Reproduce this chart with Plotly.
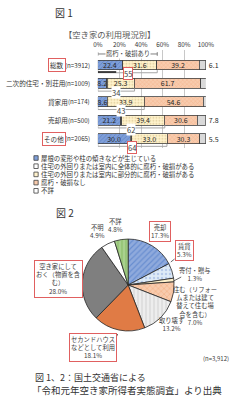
import plotly.graph_objects as go

W, H = 247, 400
FONT = "Noto Sans CJK JP"

# ---------------- Figure 1 data (stacked bars) ----------------
categories = ["総数", "二次的住宅・別荘用", "貸家用", "売却用", "その他"]
sample_sizes = ["(n=3912)", "(n=1009)", "(n=174)", "(n=500)", "(n=2065)"]
highlighted = ["総数", "その他"]
series_names = [
    "屋根の変形や柱の傾きなどが生じている",
    "住宅の外回りまたは室内に全体的に腐朽・破損がある",
    "住宅の外回りまたは室内に部分的に腐朽・破損がある",
    "腐朽・破損なし",
    "不詳",
]
roof_deformed = [22.4, 8.2, 8.6, 21.2, 30.0]
overall_damage = [0.7, 0.3, 0.3, 1.0, 1.2]
partial_damage = [31.6, 25.3, 33.9, 39.4, 33.0]
no_damage = [39.2, 61.7, 54.6, 30.6, 30.3]
unknown = [6.1, 4.7, 2.9, 7.8, 5.5]
damaged_total = [55, 34, 43, 62, 64]
bracket_label = "腐朽・破損あり"
x_tick_vals = [0, 20, 40, 60, 80, 100]
x_tick_text = ["0%", "20%", "40%", "60%", "80%", "100%"]

# ---------------- Figure 2 data (pie) ----------------
pie_labels = ["売却", "賃貸", "寄付・贈与",
              "住む（リフォームまたは建て替えて住む場合を含む）", "取り壊す",
              "セカンドハウスなどとして利用", "空き家にしておく（物置を含む）",
              "不明", "不詳"]
pie_values = [17.3, 5.3, 1.3, 7.0, 13.2, 18.1, 28.0, 4.9, 4.8]
pie_wrapped = ["売却", "賃貸", "寄付・贈与",
               "住む（リフォー<br>ムまたは建て<br>替えて住む場<br>合を含む）", "取り壊す",
               "セカンドハウス<br>などとして利用", "空き家にして<br>おく（物置を含<br>む）",
               "不明", "不詳"]
pie_boxed = ["売却", "賃貸", "セカンドハウスなどとして利用", "空き家にしておく（物置を含む）"]
pie_n_label = "(n=3,912)"

titles = {"fig1": "図 1", "fig2": "図 2", "sub1": "【空き家の利用現況別】"}
caption = ["図 1、2：国土交通省による", "「令和元年空き家所得者実態調査」より出典"]


def P(x, y):
    return x / W, 1 - y / H


def est_width(s, size):
    w = 0.0
    for ch in s:
        if ch in "()":
            w += 0.32
        elif ch == "=":
            w += 0.58
        elif ch.isascii():
            w += 0.56
        else:
            w += 1.0
    return w * size


positions = list(range(len(categories)))
RED = "#E06060"
TXT = "#333333"

fig = go.Figure()

bar_styles = [
    dict(color="#7E9ED8", fg="#3F64AE", shape="/"),
    dict(color="#FFFFFF", fg="#333333", shape=""),
    dict(color="#FFF2CC", fg="#B8A060", shape="."),
    dict(color="#F8CBAD", fg="#EE9A66", shape="x"),
    dict(color="#D9D9D9", fg="#D9D9D9", shape=""),
]
series = [roof_deformed, overall_damage, partial_damage, no_damage, unknown]
for k, (name, vals, st) in enumerate(zip(series_names, series, bar_styles)):
    if k == 1:
        tp = "none"
    elif k == 4:
        tp = "outside"
    else:
        tp = "inside"
    fig.add_trace(go.Bar(
        y=positions, x=vals, orientation="h", name=name,
        marker=dict(color=st["color"], line=dict(color="#404040", width=0.8),
                    pattern=dict(shape=st["shape"], fgcolor=st["fg"], size=3,
                                 solidity=0.25, fillmode="overlay")),
        texttemplate="%{x:.1f}", textposition=tp, insidetextanchor="middle",
        textangle=0, textfont=dict(size=7, color="#262626", family=FONT),
        cliponaxis=False, showlegend=False, hoverinfo="skip",
        xaxis="x", yaxis="y",
    ))

pie_colors = ["#8FAADC", "#DEEBF7", "#FFF2CC", "#F8CBAD", "#EDEDED",
              "#E07B45", "#7F7F7F", "#FFFFFF", "#A9D18E"]
pie_fg = ["#4472C4", "#8FAADC", "#FFF2CC", "#EE9A66", "#BFBFBF",
          "#E07B45", "#7F7F7F", "#FFFFFF", "#70AD47"]
pie_shapes = ["/", ".", "", "x", "|", "", "", "", "|"]
cx, cy, r = 130, 285, 48.5
fig.add_trace(go.Pie(
    labels=pie_labels, values=pie_values, sort=False, direction="clockwise",
    rotation=0, textinfo="none", hoverinfo="skip", showlegend=False,
    domain=dict(x=[(cx - r) / W, (cx + r) / W], y=[1 - (cy + r) / H, 1 - (cy - r) / H]),
    marker=dict(colors=pie_colors, line=dict(color="#262626", width=0.8),
                pattern=dict(shape=pie_shapes, fgcolor=pie_fg, size=4,
                             solidity=0.3, fillmode="overlay")),
))

ann = []
shapes = []


def text(t, x, y, size, color=TXT, xanchor="center", box=False, **kw):
    px_, py_ = P(x, y)
    d = dict(text=t, x=px_, y=py_, xref="paper", yref="paper", showarrow=False,
             xanchor=xanchor, yanchor="middle",
             font=dict(size=size, color=color, family=FONT), **kw)
    if box:
        d.update(bordercolor=RED, borderwidth=1, borderpad=1, bgcolor="white")
    ann.append(d)


# Titles
text(titles["fig1"], 62, 13, 10)
text(titles["sub1"], 110, 34, 8.3, color="#595959", borderpad=0)
text(titles["fig2"], 63, 212, 10)

# Bar row labels
N_SIZE, C_SIZE = 6.2, 6.6
for i, (cat, n) in enumerate(zip(categories, sample_sizes)):
    ann.append(dict(text=n, x=91 / W, xref="paper", y=positions[i], yref="y",
                    showarrow=False, xanchor="right", yanchor="middle", borderpad=0,
                    font=dict(size=N_SIZE, color=TXT, family=FONT)))
    nx = 91 - est_width(n, N_SIZE) - 1.5
    d = dict(text=cat, x=nx / W, xref="paper", y=positions[i], yref="y",
             showarrow=False, xanchor="right", yanchor="middle", borderpad=0,
             font=dict(size=C_SIZE, color=TXT, family=FONT))
    if cat in highlighted:
        d.update(bordercolor=RED, borderwidth=1, borderpad=1)
    ann.append(d)

# Brackets below bars
for i, v in enumerate(damaged_total):
    y0, y1 = positions[i] + 0.28, positions[i] + 0.42
    line = dict(color="#A6A6A6", width=1)
    shapes += [
        dict(type="line", xref="x", yref="y", x0=0, x1=0, y0=y0, y1=y1, line=line),
        dict(type="line", xref="x", yref="y", x0=0, x1=v, y0=y1, y1=y1, line=line),
        dict(type="line", xref="x", yref="y", x0=v, x1=v, y0=y0, y1=y1, line=line),
    ]
    d = dict(text=str(v), x=v / 2, y=positions[i] + 0.48, xref="x", yref="y",
             showarrow=False, xanchor="center", yanchor="middle", bgcolor="white",
             font=dict(size=7.5, color="#404040", family=FONT), borderpad=0)
    if categories[i] in highlighted:
        d.update(bordercolor=RED, borderwidth=1)
    ann.append(d)
shapes.append(dict(type="line", xref="x", yref="y", x0=0, x1=17,
                   y0=positions[0] + 0.38, y1=positions[0] + 0.38,
                   line=dict(color="#111111", width=1.5)))

# top bracket "腐朽・破損あり"
yb = positions[0] - 0.6
lt = dict(color="#808080", width=1)
shapes += [
    dict(type="line", xref="x", yref="y", x0=0, x1=damaged_total[0], y0=yb, y1=yb, line=lt),
    dict(type="line", xref="x", yref="y", x0=0, x1=0, y0=yb - 0.1, y1=yb + 0.1, line=lt),
    dict(type="line", xref="x", yref="y", x0=damaged_total[0], x1=damaged_total[0],
         y0=yb - 0.1, y1=yb + 0.1, line=lt),
]
ann.append(dict(text=bracket_label, x=damaged_total[0] / 2, y=yb, xref="x", yref="y",
                showarrow=False, bgcolor="white", borderpad=0,
                font=dict(size=6.3, color="#404040", family=FONT)))

# Manual legend
leg_fill = ["#7E9ED8", "#FFFFFF", "#FFF2CC", "#F8CBAD", "#FFFFFF"]
for k, name in enumerate(series_names):
    yy = 158 + 8.2 * k
    x0, y0 = P(30.5, yy - 2.3)
    x1, y1 = P(35, yy + 2.3)
    shapes.append(dict(type="rect", xref="paper", yref="paper", x0=x0, x1=x1, y0=y0, y1=y1,
                       fillcolor=leg_fill[k], line=dict(color="#404040", width=0.8)))
    text(name, 37, yy, 6.4, xanchor="left", borderpad=0)

# Pie labels
pie_pos = {
    "売却": (164, 231), "賃貸": (189, 251), "寄付・贈与": (200, 274),
    "住む（リフォームまたは建て替えて住む場合を含む）": (201, 306), "取り壊す": (176, 324),
    "セカンドハウスなどとして利用": (93, 347), "空き家にしておく（物置を含む）": (56, 279),
    "不明": (98, 231), "不詳": (117, 226),
}
for lab, wrapped, v in zip(pie_labels, pie_wrapped, pie_values):
    x, y = pie_pos[lab]
    text(f"{wrapped}<br>{v:.1f}%", x, y, 6.3, color="#404040",
         box=lab in pie_boxed, align="center")

# Leader lines
for (xa, ya, xb, yb2) in [(175, 262, 179, 259), (178, 281, 186, 277), (116, 340, 119, 334)]:
    a0, b0 = P(xa, ya)
    a1, b1 = P(xb, yb2)
    shapes.append(dict(type="line", xref="paper", yref="paper", x0=a0, y0=b0, x1=a1, y1=b1,
                       line=dict(color="#404040", width=0.8)))

text(pie_n_label, 223, 358, 6, color="#404040")
text(caption[0], 30, 377, 9, xanchor="left")
text(caption[1], 26, 390, 9.5, xanchor="left")

fig.update_layout(
    width=W, height=H, margin=dict(l=0, r=0, t=0, b=0),
    paper_bgcolor="white", plot_bgcolor="white",
    barmode="stack", bargap=0.46,
    uniformtext=dict(minsize=7, mode="show"),
    xaxis=dict(domain=[98 / W, 212 / W], range=[0, 100], side="top",
               tickvals=x_tick_vals, ticktext=x_tick_text, showgrid=True,
               gridcolor="#C8C8C8", gridwidth=0.75, zeroline=False, showline=False,
               tickfont=dict(size=6.3, color=TXT, family=FONT), fixedrange=True,
               ticklabelstandoff=1),
    yaxis=dict(domain=[1 - 147.8 / H, 1 - 50.3 / H], range=[4.5, -0.8],
               showticklabels=False, showgrid=False, zeroline=False, fixedrange=True),
    annotations=ann, shapes=shapes,
    font=dict(family=FONT),
)

fig.write_html("out.html")
